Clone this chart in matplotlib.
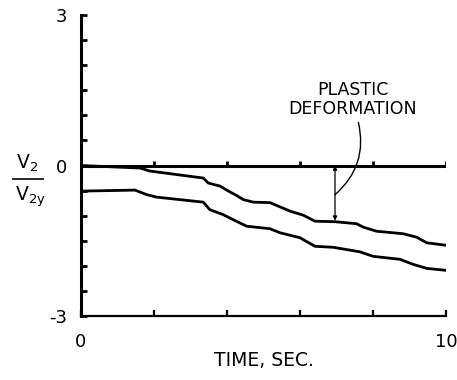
import matplotlib
matplotlib.use("Agg")
import matplotlib.pyplot as plt
from matplotlib.lines import Line2D

plt.rcParams["mathtext.default"] = "regular"

# upper trace (permanent deformation)
t_upper = [0.0, 1.62, 1.89, 2.62, 3.35, 3.49, 3.81, 4.04, 4.22, 4.45, 4.72, 5.18,
           5.73, 6.09, 6.41, 6.96, 7.55, 7.74, 8.1, 8.83, 9.2, 9.47, 10.0]
v_upper = [0.0, -0.05, -0.11, -0.18, -0.25, -0.35, -0.41, -0.51, -0.58, -0.68, -0.73, -0.74,
           -0.91, -0.99, -1.11, -1.12, -1.16, -1.23, -1.31, -1.36, -1.43, -1.54, -1.59]

# lower trace
t_lower = [0.0, 1.48, 1.8, 2.07, 2.71, 3.35, 3.53, 3.9, 4.17, 4.54, 5.18,
           5.45, 6.0, 6.41, 6.91, 7.64, 8.0, 8.74, 9.1, 9.47, 10.0]
v_lower = [-0.51, -0.49, -0.58, -0.63, -0.68, -0.73, -0.88, -0.98, -1.08, -1.21, -1.26,
           -1.34, -1.44, -1.61, -1.63, -1.72, -1.81, -1.87, -1.97, -2.05, -2.09]

x_ticks = [0, 2, 4, 6, 8, 10]
x_labels = ["0", "", "", "", "", "10"]
y_ticks = [-3 + 0.5 * i for i in range(13)]
y_labels = {3.0: "3", 0.0: "0", -3.0: "-3"}

arrow_t = 6.96
arrow_v = -1.10

fig = plt.figure(figsize=(4.57, 3.8), dpi=100)
ax = fig.add_axes([0.1772, 0.1684, 0.7987, 0.792])

ax.plot(t_upper, v_upper, color="black", lw=2.0, solid_joinstyle="miter")
ax.plot(t_lower, v_lower, color="black", lw=2.0, solid_joinstyle="miter")

# zero line with its small upward ticks
ax.axhline(0, color="black", lw=2.2, zorder=3)
ax.vlines(x_ticks[1:], 0, 0.1, color="black", lw=2.0)

ax.set_xlim(0, 10)
ax.set_ylim(-3, 3)

for s in ["top", "right"]:
    ax.spines[s].set_visible(False)
ax.spines["left"].set_linewidth(2.2)
ax.spines["bottom"].set_linewidth(1.6)

ax.set_xticks(x_ticks)
ax.set_xticklabels(x_labels)
ax.set_yticks(y_ticks)
ax.set_yticklabels([y_labels.get(round(v, 1), "") for v in y_ticks])
ax.tick_params(axis="y", direction="in", length=4.5, width=2, pad=10, labelsize=13)
ax.tick_params(axis="x", direction="in", length=4, width=1.6, pad=12, labelsize=13)

ax.set_xlabel("TIME, SEC.", fontsize=13.5, labelpad=0)

# V2 / V2y label
fig.text(27 / 457, 1 - 163 / 380, "V$_2$", fontsize=13.5, ha="center", va="center")
fig.text(30 / 457, 1 - 197 / 380, "V$_{2y}$", fontsize=13.5, ha="center", va="center")
fig.add_artist(Line2D([13 / 457, 43 / 457], [1 - 179 / 380, 1 - 179 / 380],
                      color="black", lw=1.2))

# plastic deformation annotation
ax.annotate("", xy=(arrow_t, arrow_v), xytext=(arrow_t, 0.0),
            arrowprops=dict(arrowstyle="<|-|>", color="black", lw=0.9,
                            mutation_scale=6, shrinkA=0, shrinkB=0))
ax.annotate("", xy=(arrow_t, -0.58), xytext=(7.6, 0.86),
            arrowprops=dict(arrowstyle="-", color="black", lw=1.0,
                            connectionstyle="arc3,rad=-0.3", shrinkA=0, shrinkB=0))
ax.text(7.45, 1.32, "PLASTIC\nDEFORMATION", fontsize=12.5, ha="center", va="center",
        linespacing=1.1)

fig.savefig("out.png", dpi=100)
